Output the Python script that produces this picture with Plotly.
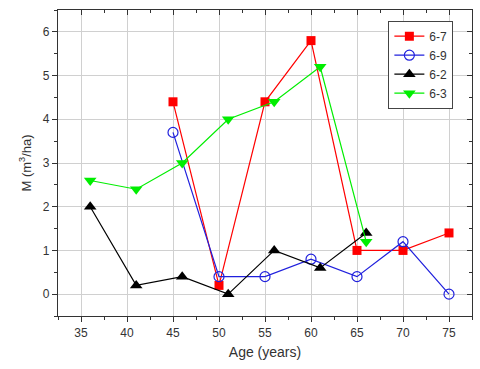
import plotly.graph_objects as go

# data
age_a = [45, 50, 55, 60, 65, 70, 75]
m_67 = [4.4, 0.2, 4.4, 5.8, 1.0, 1.0, 1.4]
m_69 = [3.7, 0.4, 0.4, 0.8, 0.4, 1.2, 0.0]

age_b = [36, 41, 46, 51, 56, 61, 66]
m_62 = [2.0, 0.2, 0.4, 0.0, 1.0, 0.6, 1.4]
m_63 = [2.6, 2.4, 3.0, 4.0, 4.4, 5.2, 1.2]

x_ticks = [35, 40, 45, 50, 55, 60, 65, 70, 75]
y_ticks = [0, 1, 2, 3, 4, 5, 6]

fig = go.Figure()

fig.add_trace(go.Scatter(x=age_a, y=m_67, name="6-7", mode="lines+markers",
                         line=dict(color="#ff0000", width=1.2),
                         marker=dict(symbol="square", size=9, color="#ff0000")))
fig.add_trace(go.Scatter(x=age_a, y=m_69, name="6-9", mode="lines+markers",
                         line=dict(color="#2020dd", width=1.2),
                         marker=dict(symbol="circle-open", size=10, color="#2020dd",
                                     line=dict(width=1.2))))
fig.add_trace(go.Scatter(x=age_b, y=m_62, name="6-2", mode="lines+markers",
                         line=dict(color="#000000", width=1.2),
                         marker=dict(symbol="triangle-up", size=11, color="#000000")))
fig.add_trace(go.Scatter(x=age_b, y=m_63, name="6-3", mode="lines+markers",
                         line=dict(color="#00ee00", width=1.2),
                         marker=dict(symbol="triangle-down", size=11, color="#00ee00")))

axis_common = dict(showline=True, linecolor="#333", linewidth=1.2,
                   gridcolor="#d0d0d0", gridwidth=1, zeroline=False,
                   ticks="outside", ticklen=5, tickcolor="#333", automargin=False,
                   tickfont=dict(size=12, color="#333"))

fig.update_xaxes(range=[32.5, 77.5], tickvals=x_ticks,
                 minor=dict(dtick=2.5, tick0=2.5, ticks="outside", ticklen=3,
                            tickcolor="#333", showgrid=False),
                 title=dict(text="Age (years)", font=dict(size=14, color="#333"), standoff=8),
                 **axis_common)
fig.update_yaxes(range=[-0.5, 6.5], tickvals=y_ticks,
                 minor=dict(dtick=0.5, tick0=0.5, ticks="outside", ticklen=3,
                            tickcolor="#333", showgrid=False),
                 title=dict(text="M (m<sup>3</sup>/ha)", font=dict(size=13, color="#333"), standoff=8),
                 **axis_common)

# mirrored frame with inward ticks on top and right
fig.update_layout(
    xaxis2=dict(overlaying="x", side="top", matches="x", range=[32.5, 77.5],
                tickvals=x_ticks, showticklabels=False, showgrid=False, automargin=False,
                showline=True, linecolor="#333", linewidth=1.2, zeroline=False,
                ticks="inside", ticklen=5, tickcolor="#333",
                minor=dict(dtick=2.5, tick0=2.5, ticks="inside", ticklen=3, tickcolor="#333")),
    yaxis2=dict(overlaying="y", side="right", matches="y", range=[-0.5, 6.5],
                tickvals=y_ticks, showticklabels=False, showgrid=False, automargin=False,
                showline=True, linecolor="#333", linewidth=1.2, zeroline=False,
                ticks="inside", ticklen=5, tickcolor="#333",
                minor=dict(dtick=0.5, tick0=0.5, ticks="inside", ticklen=3, tickcolor="#333")),
)
fig.add_trace(go.Scatter(x=[None], y=[None], xaxis="x2", yaxis="y2",
                         showlegend=False, hoverinfo="skip"))

fig.update_layout(
    width=480, height=369,
    margin=dict(l=58, r=8, t=10, b=53),
    paper_bgcolor="white", plot_bgcolor="white",
    font=dict(family="Liberation Sans, Arial, sans-serif", color="#333"),
    legend=dict(x=0.955, y=0.965, xanchor="right", yanchor="top",
                bgcolor="white", bordercolor="#444", borderwidth=1,
                font=dict(size=12), itemwidth=30, tracegroupgap=0),
    showlegend=True,
)

# the page's default body margin would shift the chart by 8px
fig.write_html("out.html", config={"displayModeBar": False},
               post_script="document.body.style.margin='0';")
